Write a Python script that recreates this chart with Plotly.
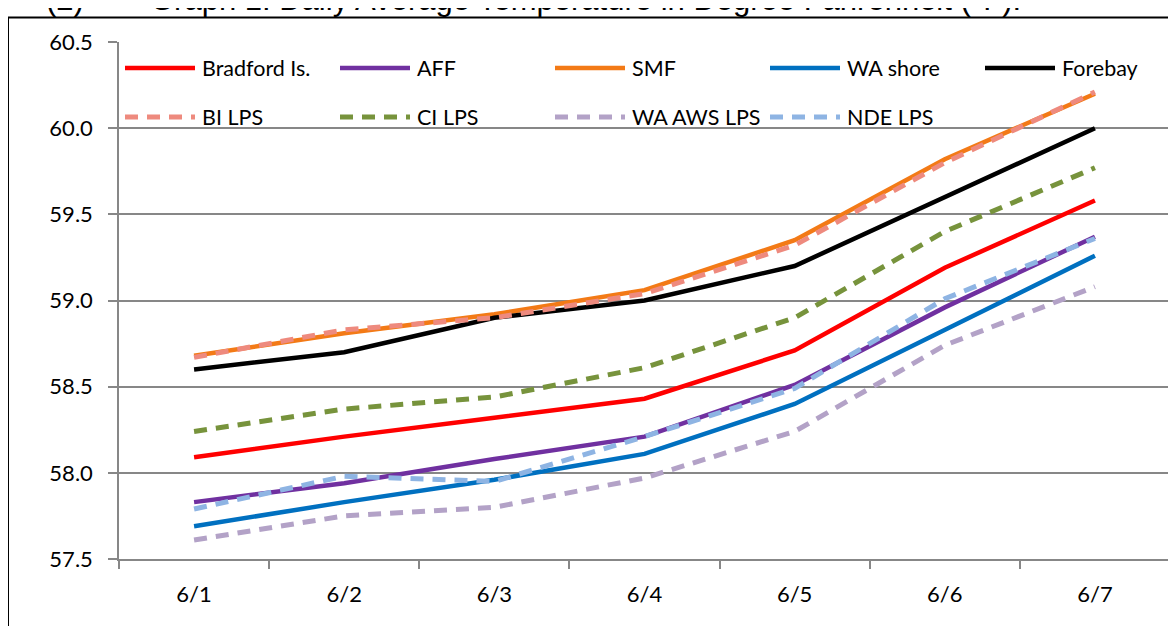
import plotly.graph_objects as go

# ---------------- data ----------------
dates = ["6/1", "6/2", "6/3", "6/4", "6/5", "6/6", "6/7"]

bradford = [58.09, 58.21, 58.32, 58.43, 58.71, 59.19, 59.58]
aff = [57.83, 57.94, 58.08, 58.21, 58.51, 58.96, 59.37]
smf = [58.68, 58.81, 58.92, 59.06, 59.35, 59.82, 60.20]
wa_shore = [57.69, 57.83, 57.96, 58.11, 58.40, 58.83, 59.26]
forebay = [58.60, 58.70, 58.90, 59.00, 59.20, 59.60, 60.00]
bi_lps = [58.67, 58.83, 58.90, 59.04, 59.32, 59.80, 60.21]
ci_lps = [58.24, 58.37, 58.44, 58.61, 58.90, 59.40, 59.77]
wa_aws_lps = [57.61, 57.75, 57.80, 57.97, 58.24, 58.74, 59.08]
nde_lps = [57.79, 57.98, 57.95, 58.21, 58.49, 59.01, 59.36]

series_names = ["Bradford Is.", "AFF", "SMF", "WA shore", "Forebay",
                "BI LPS", "CI LPS", "WA AWS LPS", "NDE LPS"]
series_values = [bradford, aff, smf, wa_shore, forebay,
                 bi_lps, ci_lps, wa_aws_lps, nde_lps]

y_ticks = [57.5, 58.0, 58.5, 59.0, 59.5, 60.0, 60.5]

title_num = "(2)"
title_text = "Graph 1: Daily Average Temperature in Degree Fahrenheit (°F)."

# ---------------- styles ----------------
colors = ["#FF0000", "#7030A0", "#F37A16", "#0070C0", "#000000",
          "#EE8A7E", "#77933C", "#B3A2C7", "#8EB4E3"]
dashes = ["solid"] * 5 + ["13px,9px"] * 4
widths = [4.5] * 5 + [5] * 4

# page has an 8px body margin; figure sized to fit the window
OFF = 8
W, H = 1176 - OFF, 626 - OFF
# plot area in page pixels
P_L, P_R, P_T, P_B = 119, 1170, 42, 559
L = P_L - OFF
R = W - (P_R - OFF)
T = P_T - OFF
B = H - (P_B - OFF)


def px_x(p):
    return (p - P_L) / (P_R - P_L)


def px_y(p):
    return (P_B - p) / (P_B - P_T)


fig = go.Figure()
for name, vals, col, dsh, wd in zip(series_names, series_values, colors, dashes, widths):
    fig.add_trace(go.Scatter(
        x=dates, y=vals, mode="lines", name=name,
        line=dict(color=col, width=wd, dash=dsh),
        showlegend=False,
    ))

shapes = []
annotations = []

# manual legend (2 rows x 5 columns)
col_x0 = [125, 340, 555, 770, 985]
row_y = [68, 117]
for i, (name, col, dsh, wd) in enumerate(zip(series_names, colors, dashes, widths)):
    r, c = divmod(i, 5)
    x0 = col_x0[c]
    y = row_y[r]
    shapes.append(dict(type="line", xref="paper", yref="paper",
                       x0=px_x(x0), x1=px_x(x0 + 70), y0=px_y(y), y1=px_y(y),
                       line=dict(color=col, width=wd, dash=dsh)))
    annotations.append(dict(xref="paper", yref="paper", x=px_x(x0 + 75), y=px_y(y),
                            xanchor="left", yanchor="middle", showarrow=False,
                            text=name, font=dict(family="Lato", size=21.5, color="black")))

# outer frame lines (left and top)
shapes.append(dict(type="line", xref="paper", yref="paper",
                   x0=px_x(8), x1=px_x(8), y0=px_y(17.5), y1=px_y(640),
                   line=dict(color="black", width=2)))
shapes.append(dict(type="line", xref="paper", yref="paper",
                   x0=px_x(8), x1=px_x(1190), y0=px_y(17.5), y1=px_y(17.5),
                   line=dict(color="black", width=2)))

# clipped title above
annotations.append(dict(xref="paper", yref="paper", x=px_x(44), y=px_y(19),
                        xanchor="left", yanchor="bottom", showarrow=False,
                        text=title_num,
                        font=dict(family="Liberation Sans", size=31, color="black")))
annotations.append(dict(xref="paper", yref="paper", x=px_x(148), y=px_y(19),
                        xanchor="left", yanchor="bottom", showarrow=False,
                        text=title_text,
                        font=dict(family="Liberation Sans", size=31, color="black")))

fig.update_layout(
    width=W, height=H,
    margin=dict(l=L, r=R, t=T, b=B),
    paper_bgcolor="white", plot_bgcolor="white",
    shapes=shapes, annotations=annotations,
    showlegend=False,
)

fig.update_xaxes(
    type="category", range=[-0.5, len(dates) - 0.5],
    showline=True, linecolor="#878787", linewidth=1.5,
    ticks="outside", tickson="boundaries", ticklen=8, tickcolor="#878787", tickwidth=1.5,
    showgrid=False, zeroline=False,
    tickfont=dict(family="Lato", size=22, color="black"),
    ticklabelstandoff=15,
)
fig.update_yaxes(
    range=[57.5, 60.5], tickvals=y_ticks, tickformat=".1f",
    showline=True, linecolor="#878787", linewidth=1.5,
    ticks="outside", ticklen=9, tickcolor="#878787", tickwidth=1.5,
    showgrid=True, gridcolor="#878787", gridwidth=1.5,
    zeroline=False,
    tickfont=dict(family="Lato", size=22, color="black"),
    ticklabelstandoff=11,
)

fig.write_html("out.html")
